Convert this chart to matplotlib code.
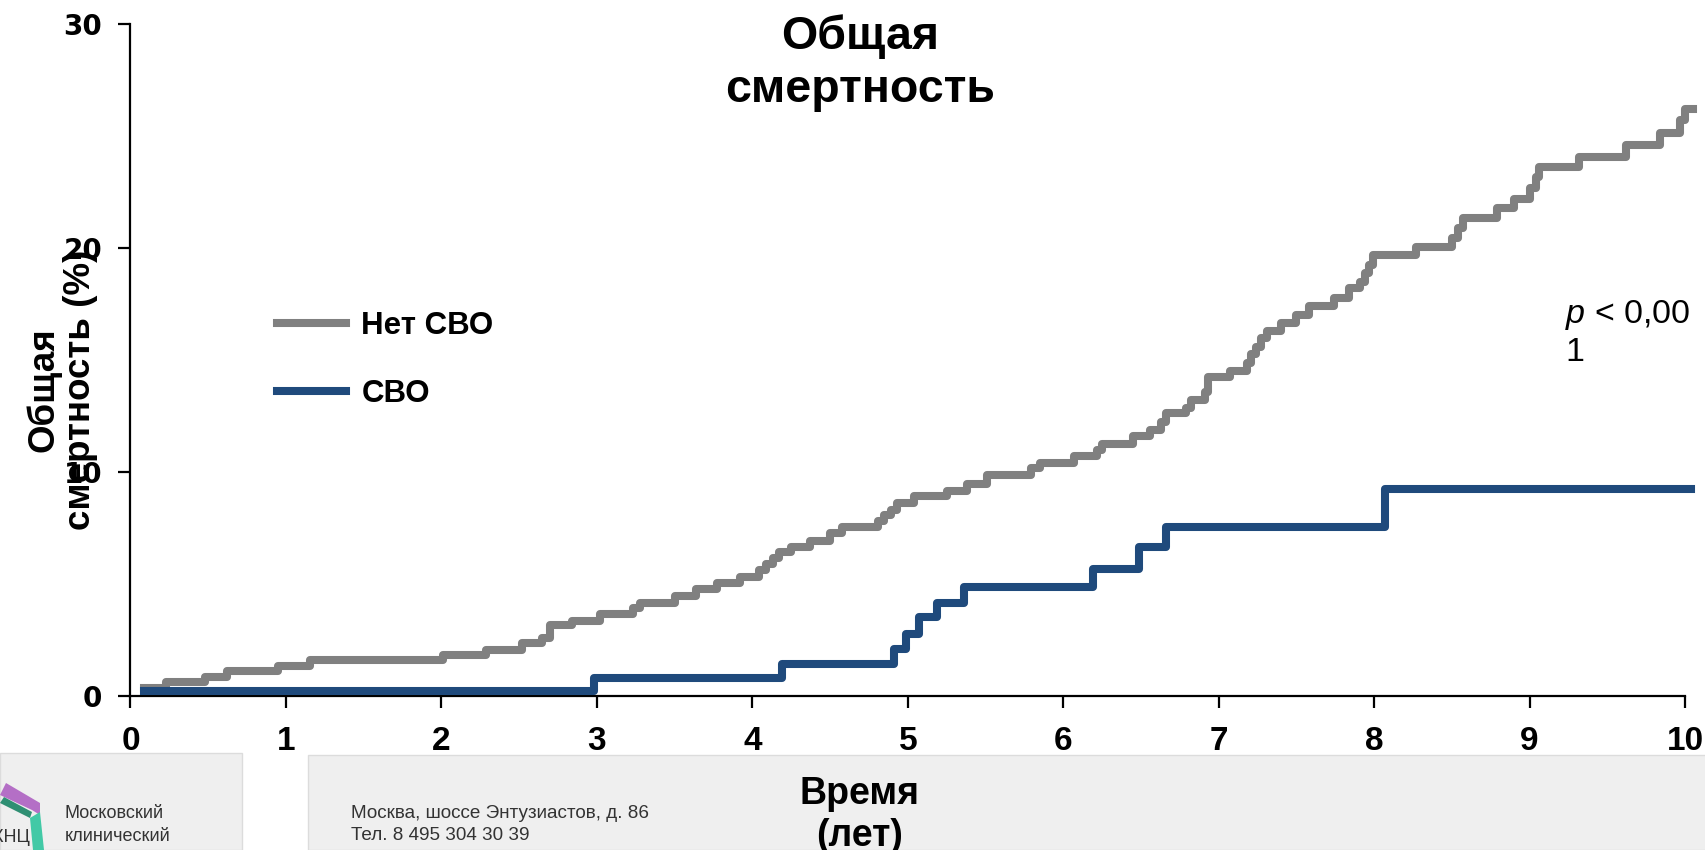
import matplotlib.pyplot as plt
from matplotlib.patches import Rectangle, Polygon

W, H = 1706, 850

# Kaplan-Meier style curves (years, % mortality)
gray_t = [0.09, 0.23, 0.48, 0.62, 0.95, 1.155, 2.01, 2.29, 2.52, 2.645,
          2.70, 2.84, 3.02, 3.23, 3.28, 3.50, 3.64, 3.77, 3.92, 4.04,
          4.09, 4.13, 4.17, 4.25, 4.37, 4.50, 4.58, 4.81, 4.85, 4.89,
          4.93, 5.04, 5.25, 5.38, 5.51, 5.79, 5.85, 6.07, 6.22, 6.25,
          6.45, 6.56, 6.63, 6.66, 6.79, 6.82, 6.91, 6.93, 7.07, 7.18,
          7.21, 7.24, 7.27, 7.31, 7.40, 7.50, 7.58, 7.74, 7.84, 7.91,
          7.94, 7.97, 7.99, 8.27, 8.50, 8.54, 8.57, 8.79, 8.90, 9.00,
          9.04, 9.06, 9.32, 9.62, 9.84, 9.97, 10.00, 10.05]
gray_y = [0.34, 0.64, 0.86, 1.12, 1.34, 1.61, 1.83, 2.05, 2.35, 2.57,
          3.17, 3.35, 3.66, 3.91, 4.17, 4.46, 4.76, 5.03, 5.30, 5.63,
          5.88, 6.15, 6.44, 6.67, 6.93, 7.26, 7.56, 7.83, 8.08, 8.30,
          8.60, 8.93, 9.17, 9.46, 9.87, 10.17, 10.42, 10.70, 10.98, 11.25,
          11.61, 11.88, 12.25, 12.62, 12.84, 13.21, 13.58, 14.25, 14.52, 14.88,
          15.27, 15.59, 15.97, 16.29, 16.64, 17.01, 17.41, 17.75, 18.20, 18.50,
          18.87, 19.24, 19.69, 20.06, 20.43, 20.88, 21.33, 21.77, 22.17, 22.66,
          23.18, 23.63, 24.08, 24.60, 25.12, 25.71, 26.19, 26.19]

blue_t = [0.09, 2.98, 4.19, 4.91, 4.99, 5.07, 5.19, 5.36, 6.19, 6.49, 6.66, 8.07, 10.04]
blue_y = [0.21, 0.79, 1.41, 2.10, 2.75, 3.54, 4.14, 4.88, 5.67, 6.64, 7.53, 9.24, 9.24]

series_labels = ['Нет СВО', 'СВО']
x_ticks = list(range(0, 11))
y_ticks = [0, 10, 20, 30]

title = 'Общая\nсмертность'
x_label = 'Время\n(лет)'
y_label = 'Общая\nсмертность (%)'
address = 'Москва, шоссе Энтузиастов, д. 86\nТел. 8 495 304 30 39\ninfo@mknc.ru'
org_name = 'Московский\nклинический\nнаучный центр'

GRAY = '#808080'
BLUE = '#1f4a7c'


def fx(x):
    return x / W


def fy(y):
    return 1 - y / H


plt.rcParams['font.family'] = ['Liberation Sans', 'DejaVu Sans']
plt.rcParams['mathtext.fontset'] = 'custom'
plt.rcParams['mathtext.it'] = 'Liberation Sans:italic'
plt.rcParams['mathtext.rm'] = 'Liberation Sans'

fig = plt.figure(figsize=(W / 100, H / 100), dpi=100)
ax = fig.add_axes([fx(130.5), fy(696), (1685 - 130.5) / W, (696 - 24) / H])

ax.step(gray_t, gray_y, where='post', color=GRAY, lw=5.8, label=series_labels[0],
        solid_joinstyle='round', clip_on=False, zorder=2)
ax.step(blue_t, blue_y, where='post', color=BLUE, lw=5.8, label=series_labels[1],
        solid_joinstyle='round', clip_on=False, zorder=3)

ax.set_xlim(0, 10)
ax.set_ylim(0, 30)
ax.set_xticks(x_ticks)
ax.set_yticks(y_ticks)
for s in ['top', 'right']:
    ax.spines[s].set_visible(False)
for s in ['left', 'bottom']:
    ax.spines[s].set_linewidth(1.6)
ax.tick_params(axis='both', direction='out', length=8.5, width=1.6, color='black')
ax.tick_params(axis='x', pad=13)
ax.tick_params(axis='y', pad=12)
for lab in ax.get_xticklabels():
    lab.set_fontsize(24)
    lab.set_fontweight('bold')
for lab in ax.get_yticklabels():
    lab.set_family('DejaVu Sans')
    lab.set_fontsize(20)
    lab.set_fontweight('bold')

leg = ax.legend(loc='center left', bbox_to_anchor=(fx(277), fy(360)),
                bbox_transform=fig.transFigure, frameon=False, borderpad=0,
                borderaxespad=0, handlelength=2.2, handletextpad=0.5,
                labelspacing=1.2, prop={'size': 22.5, 'weight': 'bold'})
for line in leg.get_lines():
    line.set_linewidth(5.8)

# titles and labels
fig.text(fx(860), fy(63), title, ha='center', va='center', fontsize=33.5,
         fontweight='bold', linespacing=1.25)
fig.text(fx(860), fy(815), x_label, ha='center', va='center', fontsize=27,
         fontweight='bold', linespacing=1.2, zorder=5)
fig.text(fx(62), fy(390), y_label, ha='center', va='center', fontsize=26.5,
         fontweight='bold', rotation=90, linespacing=1.05, multialignment='center')
fig.text(fx(1565), fy(333), '$\\mathit{p}$ < 0,00\n1', ha='left', va='center',
         fontsize=24.5, linespacing=1.2)

# footer panels
fig.add_artist(Rectangle((0, 0), fx(242), 97 / H, transform=fig.transFigure,
                         facecolor='#efefef', edgecolor='#dcdcdc', lw=1, zorder=-1))
fig.add_artist(Rectangle((fx(308), 0), 1 - fx(308), 95 / H, transform=fig.transFigure,
                         facecolor='#efefef', edgecolor='#dcdcdc', lw=1, zorder=-1))

# logo pieces
fig.add_artist(Polygon([(fx(0), fy(795)), (fx(6), fy(783)), (fx(40), fy(803)),
                        (fx(40), fy(815)), (fx(32), fy(810))],
                       closed=True, transform=fig.transFigure,
                       facecolor='#b46fc6', edgecolor='none', zorder=0))
fig.add_artist(Polygon([(fx(0), fy(803)), (fx(4), fy(797)), (fx(32), fy(812)),
                        (fx(30), fy(818))],
                       closed=True, transform=fig.transFigure,
                       facecolor='#2f8f73', edgecolor='none', zorder=0))
fig.add_artist(Polygon([(fx(30), fy(818)), (fx(40), fy(812)), (fx(44), fy(850)),
                        (fx(33), fy(850))],
                       closed=True, transform=fig.transFigure,
                       facecolor='#42c9a6', edgecolor='none', zorder=0))
fig.text(fx(30), fy(838), 'МКНЦ', ha='right', va='center', fontsize=13, color='#333333')
fig.text(fx(65), fy(805), org_name, ha='left', va='top', fontsize=13,
         color='#333333', linespacing=1.45)
fig.text(fx(351), fy(805), address, ha='left', va='top', fontsize=13.6,
         color='#333333', linespacing=1.4)

fig.savefig('out.png', dpi=100)
